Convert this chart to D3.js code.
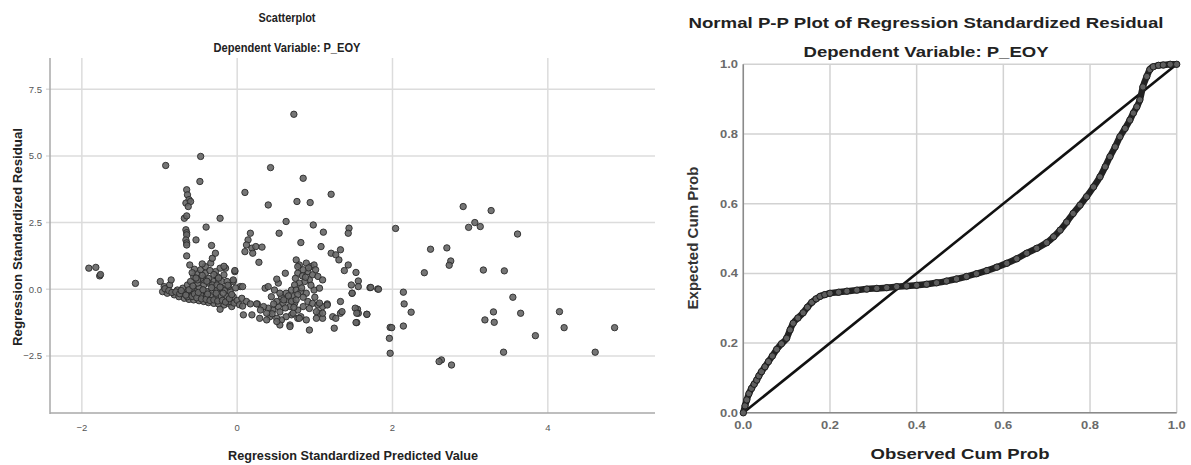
<!DOCTYPE html>
<html>
<head>
<meta charset="utf-8">
<script src="https://cdn.jsdelivr.net/npm/d3@7"></script>
<style>
  body { margin: 0; background: #fff; }
  svg { display: block; }
</style>
</head>
<body>
<script>
// ---- data ----
// scatter: [standardized predicted value, standardized residual]
var scatterPoints = [
  [-1.91,0.79],[-1.82,0.82],[-1.77,0.50],[-1.76,0.55],[-1.31,0.22],
  [-0.92,4.64],[-0.47,4.98],[-0.48,4.04],[0.73,6.56],[0.43,4.56],[0.85,4.16],
  [0.10,3.63],[0.40,3.16],[0.77,3.29],[0.94,3.25],[1.21,3.56],
  [-0.65,3.73],[-0.64,3.54],[-0.62,3.36],[-0.66,3.23],[-0.60,3.29],[-0.63,3.10],
  [-0.68,2.66],[-0.65,2.75],[-0.66,2.23],[-0.65,2.12],[-0.65,2.04],[-0.66,1.85],
  [-0.65,1.74],[-0.65,1.66],[-0.65,1.25],[-0.61,0.91],[-0.53,1.85],[-0.40,2.33],[-0.22,2.66],
  [-0.99,0.29],[-0.94,0.10],[-0.87,0.16],[-0.85,0.35],[-0.96,-0.09],[-0.90,-0.15],
  [-0.81,-0.21],[-0.75,-0.28],[-0.68,-0.34],[-0.62,-0.38],[-0.56,-0.40],[-0.49,-0.43],
  [-0.43,-0.46],[-0.37,-0.50],[-0.30,-0.53],[-0.24,-0.55],[-0.17,-0.59],[-0.11,-0.53],
  [-0.07,-0.65],[-0.22,-0.75],[-0.09,-0.46],
  [-0.77,-0.03],[-0.70,0.04],[-0.64,0.16],[-0.60,0.29],[-0.56,0.48],[-0.51,0.60],
  [-0.47,0.73],[-0.41,0.85],[-0.34,0.98],[-0.32,1.16],[-0.28,1.35],[-0.33,1.64],
  [-0.22,0.79],[-0.15,0.79],[-0.17,0.54],[-0.26,0.48],[-0.30,0.29],[-0.37,0.23],
  [-0.43,0.16],[-0.49,0.04],[-0.45,-0.09],[-0.39,-0.09],[-0.32,-0.03],[-0.26,-0.03],
  [-0.20,0.04],[-0.15,-0.03],[-0.13,-0.28],[-0.22,-0.28],[-0.28,-0.28],[-0.34,-0.28],
  [-0.41,-0.28],[-0.05,0.29],[-0.03,0.66],[-0.09,-0.09],[-0.05,-0.28],[0.04,0.10],
  [-0.60,-0.15],[-0.54,-0.09],[-0.47,-0.21],[-0.51,0.23],[-0.58,0.04],[-0.64,-0.09],
  [-0.70,-0.15],[-0.37,0.41],[-0.43,0.35],[-0.47,0.41],[-0.51,0.35],[-0.28,0.66],
  [-0.24,0.29],[-0.41,0.60],[-0.32,0.16],[-0.26,0.16],[-0.20,0.29],[-0.13,0.29],
  [-0.11,0.10],[-0.64,-0.28],[-0.17,0.86],[-0.03,0.70],[-0.05,0.35],[0.07,0.10],
  [-0.93,0.02],[-0.88,-0.05],[-0.84,-0.12],[-0.79,-0.10],[-0.74,-0.17],[-0.72,-0.05],
  [-0.66,-0.22],[-0.62,-0.02],[-0.58,-0.27],[-0.55,-0.18],[-0.52,-0.32],[-0.50,-0.12],
  [-0.46,-0.36],[-0.44,-0.02],[-0.40,-0.38],[-0.38,-0.18],[-0.35,-0.42],[-0.33,0.06],
  [-0.30,-0.40],[-0.27,-0.15],[-0.25,-0.44],[-0.22,0.08],[-0.19,-0.42],[-0.18,-0.15],
  [-0.15,-0.48],[-0.12,0.15],[-0.10,-0.35],[-0.07,-0.20],[-0.04,-0.52],[-0.02,0.05],
  [0.00,-0.42],[0.03,-0.58],[-0.57,0.12],[-0.53,0.42],[-0.45,0.52],[-0.39,0.30],
  [-0.35,0.70],[-0.30,0.55],[-0.24,0.42],[-0.45,0.95],[-0.55,0.75],[-0.58,0.62],
  [0.63,2.54],[0.98,2.41],[1.11,2.14],[1.44,2.29],[1.43,2.10],[0.54,2.10],[0.17,2.10],
  [0.82,1.75],[1.08,1.60],[0.14,1.85],[0.12,1.66],[0.19,1.54],[0.24,1.60],[0.10,1.41],
  [0.20,1.35],[0.32,1.58],[0.28,1.01],[1.21,1.35],[1.27,1.29],[1.33,1.48],[1.31,1.10],
  [1.43,0.91],[1.38,0.70],[1.53,0.63],[1.56,0.31],[1.47,0.16],[1.48,-0.15],[1.71,0.06],
  [1.81,0.01],[1.67,-0.94],[1.55,-0.75],[1.56,-0.90],[1.54,-1.25],[1.97,-1.43],
  [1.96,-1.84],[2.04,2.28],
  [0.76,1.10],[0.80,0.91],[0.89,0.98],[0.95,0.85],[0.99,0.91],[1.01,0.73],[0.91,0.66],
  [0.85,0.73],[0.78,0.60],[0.97,0.54],[1.04,0.48],[1.10,0.35],[0.93,0.35],[0.87,0.29],
  [0.80,0.23],[0.74,0.16],[0.70,-0.03],[0.76,-0.03],[0.82,-0.09],[0.89,-0.15],
  [0.99,-0.03],[1.06,0.04],[0.72,-0.28],[0.65,-0.40],[0.59,-0.53],[0.53,-0.65],
  [0.46,-0.78],[0.40,-0.71],[0.34,-0.65],[0.51,-0.46],[0.57,-0.28],[0.63,-0.15],
  [0.68,-0.65],[0.74,-0.53],[0.78,-0.78],[0.85,-0.65],[0.91,-0.46],[0.97,-0.53],
  [1.04,-0.59],[1.10,-0.65],[1.16,-0.55],[0.82,-1.03],[0.89,-1.15],[0.93,-1.53],
  [0.78,-1.09],[0.70,-0.96],[0.63,-1.03],[0.57,-1.15],[0.51,-1.09],[0.42,-1.03],
  [0.38,-1.15],[0.29,-1.09],[0.19,-0.96],[0.08,-0.96],[0.68,-1.34],[1.06,-0.90],
  [1.10,-1.09],[1.23,-1.03],[1.33,-0.90],[1.25,-1.46],[0.36,0.04],[0.40,0.10],
  [0.48,-0.03],[0.53,0.23],[0.55,-0.15],[0.44,-0.28],[0.62,0.60],[0.75,0.41],[0.51,0.38],
  [0.78,0.85],[0.84,0.50],[0.92,0.80],[0.88,0.45],[0.95,0.15],[0.83,0.05],[0.78,-0.20],
  [0.70,-0.45],[0.62,-0.70],[0.55,-0.85],[0.47,-0.55],[0.85,-0.30],[0.93,-0.72],
  [1.00,-0.30],[0.60,-0.40],[0.66,-0.25],[0.73,-0.68],[0.76,-0.40],[0.45,-0.92],[0.30,-0.78],
  [0.06,-0.34],[0.12,-0.46],[0.17,-0.55],[0.26,-0.55],[0.07,-0.63],[0.25,-0.55],
  [0.55,-1.34],[0.68,-1.40],[0.51,-1.21],[0.38,-0.90],[0.72,-0.90],[0.80,-1.09],
  [1.02,-1.09],[1.06,-0.52],[1.16,-0.59],[1.10,-0.90],[1.02,-0.84],[1.33,-0.46],
  [1.35,-0.84],[1.27,-1.09],[1.52,-0.71],[1.54,-0.90],[1.53,-1.25],[1.67,-0.94],
  [1.48,-0.15],[1.56,0.10],[1.72,0.07],[1.82,0.00],
  [2.14,-0.11],[2.15,-0.55],[2.24,-0.86],[2.14,-1.38],[1.99,-1.44],[1.97,-2.40],
  [2.63,-2.65],[2.60,-2.71],[2.76,-2.84],
  [2.49,1.50],[2.70,1.55],[2.75,1.06],[2.73,0.90],[2.41,0.62],[3.17,0.72],[3.44,0.69],
  [3.55,-0.30],[3.30,-0.85],[3.65,-0.90],[3.19,-1.15],[3.31,-1.24],[4.15,-0.84],
  [4.21,-1.44],[4.86,-1.44],[3.84,-1.74],[3.43,-2.36],[4.61,-2.36],
  [2.91,3.10],[3.27,2.95],[2.98,2.32],[3.06,2.50],[3.13,2.35],[3.61,2.07]
];
var scatterXTicks = [-2, 0, 2, 4];
var scatterYTicks = [-2.5, 0, 2.5, 5, 7.5];

// P-P plot: [observed cum prob, expected cum prob]
var ppPoints = [
  [0.000,0.000],[0.004,0.020],[0.008,0.037],[0.013,0.055],[0.019,0.070],[0.025,0.082],
  [0.031,0.094],[0.036,0.106],[0.042,0.118],[0.050,0.132],[0.058,0.147],[0.067,0.163],
  [0.077,0.182],[0.088,0.198],[0.100,0.214],[0.108,0.238],[0.115,0.257],[0.126,0.272],
  [0.138,0.287],[0.148,0.303],[0.158,0.317],[0.168,0.327],[0.177,0.334],[0.188,0.339],
  [0.200,0.343],[0.220,0.346],[0.239,0.349],[0.262,0.352],[0.285,0.355],[0.308,0.357],
  [0.331,0.359],[0.354,0.362],[0.377,0.364],[0.400,0.366],[0.423,0.369],[0.446,0.373],
  [0.469,0.378],[0.492,0.384],[0.515,0.391],[0.538,0.399],[0.562,0.408],[0.585,0.418],
  [0.608,0.429],[0.631,0.442],[0.654,0.458],[0.677,0.472],[0.700,0.488],[0.716,0.505],
  [0.731,0.524],[0.746,0.547],[0.761,0.572],[0.777,0.596],[0.792,0.620],[0.808,0.648],
  [0.823,0.677],[0.835,0.706],[0.846,0.735],[0.858,0.763],[0.869,0.792],[0.881,0.816],
  [0.892,0.840],[0.900,0.860],[0.908,0.878],[0.915,0.898],[0.922,0.935],[0.931,0.965],
  [0.938,0.985],[0.946,0.993],[0.958,0.997],[0.969,0.998],[0.985,1.000],[1.000,1.000]
];
var ppDiagonal = [0, 1];
var ppTicks = [0, 0.2, 0.4, 0.6, 0.8, 1.0];

var narrow = "'Liberation Sans Narrow','Arial Narrow','Liberation Sans',Arial,sans-serif";
var sans = "'Liberation Sans',Arial,sans-serif";

var svg = d3.select('body').append('svg')
  .attr('width', 1191).attr('height', 465);

function label(x, y, txt, size, len, fam, opts) {
  opts = opts || {};
  var t = svg.append('text')
    .attr('x', x).attr('y', y)
    .attr('text-anchor', opts.anchor || 'middle')
    .attr('dominant-baseline', 'central')
    .style('font-family', fam)
    .style('font-size', size + 'px')
    .style('font-weight', opts.weight || 'bold')
    .style('fill', opts.fill || '#222')
    .text(txt);
  if (len) t.attr('textLength', len).attr('lengthAdjust', 'spacingAndGlyphs');
  if (opts.rotate) t.attr('x', 0).attr('y', 0)
    .attr('transform', 'translate(' + x + ',' + y + ') rotate(-90)');
  return t;
}

// ================= left: scatterplot =================
var lx = d3.scaleLinear().domain([-2.41, 5.38]).range([50, 655]);
var ly = d3.scaleLinear().domain([-4.64, 8.67]).range([413, 58]);

var gl = svg.append('g');
scatterXTicks.forEach(function (t) {
  gl.append('line').attr('x1', lx(t)).attr('x2', lx(t)).attr('y1', 58).attr('y2', 413)
    .style('stroke', '#dcdcdc').style('stroke-width', 1.5);
  label(lx(t), 427, d3.format('')(t), 9.5, null, narrow, {weight: 'normal', fill: '#555'});
});
scatterYTicks.forEach(function (t) {
  gl.append('line').attr('x1', 46).attr('x2', 655).attr('y1', ly(t)).attr('y2', ly(t))
    .style('stroke', '#dcdcdc').style('stroke-width', 1.5);
  label(42, ly(t), d3.format('.1f')(t), 9.5, null, narrow, {weight: 'normal', fill: '#555', anchor: 'end'});
});
gl.append('line').attr('x1', 50).attr('x2', 50).attr('y1', 58).attr('y2', 414)
  .style('stroke', '#a8a8a8').style('stroke-width', 1.5);
gl.append('line').attr('x1', 50).attr('x2', 655).attr('y1', 413).attr('y2', 413)
  .style('stroke', '#a8a8a8').style('stroke-width', 1.5);

svg.append('g').selectAll('circle')
  .data(scatterPoints)
  .enter()
  .append('circle')
  .attr('cx', function (d) { return lx(d[0]); })
  .attr('cy', function (d) { return ly(d[1]); })
  .attr('r', 3.2)
  .style('fill', '#666')
  .style('fill-opacity', 0.9)
  .style('stroke', '#2a2a2a')
  .style('stroke-width', 0.9);

label(287, 17, 'Scatterplot', 13, 57, narrow);
label(287, 47, 'Dependent Variable: P_EOY', 13, 147, narrow);
label(353, 455, 'Regression Standardized Predicted Value', 13.5, 250, narrow);
label(17, 237, 'Regression Standardized Residual', 13, 218, sans, {rotate: true});

// ================= right: normal P-P plot =================
var rx = d3.scaleLinear().domain([0, 1]).range([743.3, 1176.7]);
var ry = d3.scaleLinear().domain([0, 1]).range([412.8, 64.3]);

var gr = svg.append('g');
ppTicks.forEach(function (t) {
  gr.append('line').attr('x1', rx(t)).attr('x2', rx(t)).attr('y1', ry(1)).attr('y2', ry(0))
    .style('stroke', '#d2d2d2').style('stroke-width', 1.5);
  gr.append('line').attr('x1', rx(0)).attr('x2', rx(1)).attr('y1', ry(t)).attr('y2', ry(t))
    .style('stroke', '#d2d2d2').style('stroke-width', 1.5);
  label(rx(t), 425, d3.format('.1f')(t), 11, 18, sans, {fill: '#6a6a6a'});
  label(738, ry(t), d3.format('.1f')(t), 11, 18, sans, {fill: '#6a6a6a', anchor: 'end'});
});
gr.append('line').attr('x1', rx(0)).attr('x2', rx(0)).attr('y1', ry(1)).attr('y2', ry(0))
  .style('stroke', '#8a8a8a').style('stroke-width', 1.5);
gr.append('line').attr('x1', rx(0)).attr('x2', rx(1)).attr('y1', ry(0)).attr('y2', ry(0))
  .style('stroke', '#8a8a8a').style('stroke-width', 1.5);

var ppLine = d3.line()
  .x(function (d) { return rx(d[0]); })
  .y(function (d) { return ry(d[1]); });

svg.append('path')
  .datum(ppDiagonal.map(function (v) { return [v, v]; }))
  .attr('d', ppLine)
  .style('fill', 'none').style('stroke', '#111').style('stroke-width', 2.6);

svg.append('path')
  .datum(ppPoints)
  .attr('d', ppLine.curve(d3.curveMonotoneX))
  .style('fill', 'none').style('stroke', '#222').style('stroke-width', 6.5);

svg.append('g').selectAll('circle')
  .data(ppPoints)
  .enter()
  .append('circle')
  .attr('cx', function (d) { return rx(d[0]); })
  .attr('cy', function (d) { return ry(d[1]); })
  .attr('r', 3.2)
  .style('fill', '#5e5e5e')
  .style('stroke', '#1e1e1e')
  .style('stroke-width', 1);

label(926, 23, 'Normal P-P Plot of Regression Standardized Residual', 14, 475, sans);
label(926, 52, 'Dependent Variable: P_EOY', 14, 245, sans);
label(960, 453, 'Observed Cum Prob', 15, 179, sans);
label(693, 238, 'Expected Cum Prob', 14, 143, sans, {rotate: true, fill: '#333'});
</script>
</body>
</html>
